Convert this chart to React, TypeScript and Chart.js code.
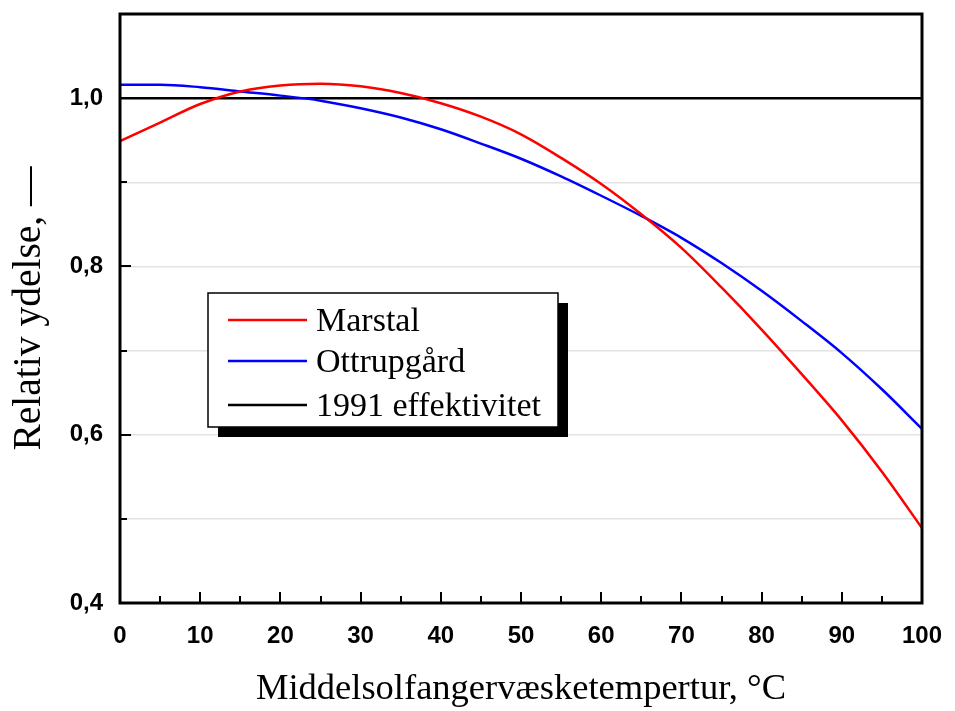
import React, { useEffect, useRef } from 'react';
import { Chart, registerables } from 'chart.js';

Chart.register(...registerables);

// ---- Data ----
const temps = [0, 5, 10, 15, 20, 25, 30, 35, 40, 45, 50, 55, 60, 65, 70, 75, 80, 85, 90, 95, 100];
const marstal = [0.949, 0.971, 0.993, 1.008, 1.015, 1.017, 1.014, 1.006, 0.994, 0.978, 0.957, 0.929, 0.898, 0.862, 0.822, 0.775, 0.725, 0.672, 0.617, 0.556, 0.489];
const ottrupgaard = [1.016, 1.016, 1.013, 1.008, 1.003, 0.997, 0.988, 0.977, 0.963, 0.946, 0.928, 0.907, 0.884, 0.86, 0.834, 0.804, 0.771, 0.735, 0.697, 0.654, 0.607];
const refTemps = [0, 100];
const ref1991 = [1.0, 1.0];

const seriesLabels = ['Marstal', 'Ottrupgård', '1991 effektivitet'];
const seriesColors = ['#ff0000', '#0000ff', '#000000'];
const xTitle = 'Middelsolfangervæsketempertur, °C';
const yTitle = 'Relativ ydelse, —';
const yLabelledTicks = [0.4, 0.6, 0.8, 1.0];
const xRange = [0, 100];
const yRange = [0.4, 1.1];

const toPoints = (xs: number[], ys: number[]) => xs.map((x, i) => ({ x, y: ys[i] }));

const zeroPad = (s: any) => {
  s.paddingTop = 0;
  s.paddingBottom = 0;
  s.paddingLeft = 0;
  s.paddingRight = 0;
};

const framePlugin = {
  id: 'frameTicks',
  afterDatasetsDraw(chart: any) {
    const { ctx, chartArea: a, scales } = chart;
    const x = scales.x;
    const y = scales.y;
    ctx.save();
    ctx.strokeStyle = '#000';
    ctx.lineWidth = 2;
    ctx.lineCap = 'butt';
    for (let v = x.min + 5; v < x.max - 1e-9; v += 5) {
      const px = Math.round(x.getPixelForValue(v));
      const major = Math.round(v) % 10 === 0;
      ctx.beginPath();
      ctx.moveTo(px, a.bottom);
      ctx.lineTo(px, a.bottom - (major ? 11 : 7));
      ctx.stroke();
    }
    for (let k = 1; k < Math.round((y.max - y.min) * 10); k++) {
      const v = y.min + k * 0.1;
      const py = Math.round(y.getPixelForValue(v));
      const major = Math.round(v * 10) % 2 === 0;
      ctx.beginPath();
      ctx.moveTo(a.left, py);
      ctx.lineTo(a.left + (major ? 11 : 7), py);
      ctx.stroke();
    }
    ctx.lineWidth = 3;
    ctx.strokeRect(a.left, a.top, a.right - a.left, a.bottom - a.top);
    ctx.restore();
  },
};

const legendPlugin = {
  id: 'boxLegend',
  afterDraw(chart: any) {
    const { ctx } = chart;
    const bx = 208, by = 293, bw = 350, bh = 134, sh = 10;
    ctx.save();
    ctx.fillStyle = '#000';
    ctx.fillRect(bx + sh, by + sh, bw, bh);
    ctx.fillStyle = '#fff';
    ctx.fillRect(bx, by, bw, bh);
    ctx.strokeStyle = '#000';
    ctx.lineWidth = 1.5;
    ctx.strokeRect(bx, by, bw, bh);
    ctx.font = '34px "Liberation Serif", "Times New Roman", serif';
    ctx.textBaseline = 'alphabetic';
    ctx.textAlign = 'left';
    const rows = [320, 361, 405];
    chart.data.datasets.forEach((ds: any, i: number) => {
      const ry = rows[i];
      ctx.strokeStyle = ds.borderColor;
      ctx.lineWidth = 2.5;
      ctx.beginPath();
      ctx.moveTo(bx + 20, ry);
      ctx.lineTo(bx + 99, ry);
      ctx.stroke();
      ctx.fillStyle = '#000';
      ctx.fillText(ds.label, bx + 108, ry + 11);
    });
    ctx.restore();
  },
};

export default function App() {
  const canvasRef = useRef<HTMLCanvasElement | null>(null);

  useEffect(() => {
    if (!canvasRef.current) return;
    const chart = new Chart(canvasRef.current, {
      type: 'line',
      data: {
        datasets: [
          {
            label: seriesLabels[0],
            data: toPoints(temps, marstal),
            borderColor: seriesColors[0],
            borderWidth: 2.5,
            pointRadius: 0,
            cubicInterpolationMode: 'monotone',
            fill: false,
          },
          {
            label: seriesLabels[1],
            data: toPoints(temps, ottrupgaard),
            borderColor: seriesColors[1],
            borderWidth: 2.5,
            pointRadius: 0,
            cubicInterpolationMode: 'monotone',
            fill: false,
          },
          {
            label: seriesLabels[2],
            data: toPoints(refTemps, ref1991),
            borderColor: seriesColors[2],
            borderWidth: 2.5,
            pointRadius: 0,
            tension: 0,
            fill: false,
          },
        ],
      },
      options: {
        responsive: false,
        animation: false,
        devicePixelRatio: 1,
        layout: { padding: { top: 14, right: 33, left: 0, bottom: 0 } },
        plugins: {
          legend: { display: false },
          tooltip: { enabled: false },
        },
        scales: {
          x: {
            type: 'linear',
            min: xRange[0],
            max: xRange[1],
            afterFit: (s: any) => { s.height = 108; zeroPad(s); },
            ticks: {
              stepSize: 10,
              padding: 19,
              color: '#000',
              font: { family: '"Liberation Sans", Arial, sans-serif', size: 24, weight: 'bold' },
              maxRotation: 0,
              autoSkip: false,
            },
            grid: { display: false, drawTicks: false },
            border: { display: false },
            title: {
              display: true,
              text: xTitle,
              color: '#000',
              font: { family: '"Liberation Serif", "Times New Roman", serif', size: 36.5 },
              padding: { top: 0, bottom: 0 },
            },
          },
          y: {
            type: 'linear',
            min: yRange[0],
            max: yRange[1],
            afterFit: (s: any) => { s.width = 120; zeroPad(s); },
            ticks: {
              stepSize: 0.1,
              padding: 17,
              color: '#000',
              autoSkip: false,
              font: { family: '"Liberation Sans", Arial, sans-serif', size: 24, weight: 'bold' },
              callback: (v: any) => {
                const n = Number(v);
                const hit = yLabelledTicks.find((t) => Math.abs(t - n) < 1e-6);
                return hit === undefined ? '' : hit.toFixed(1).replace('.', ',');
              },
            },
            grid: {
              drawTicks: false,
              lineWidth: 1.5,
              color: (c: any) => {
                const v = c.tick ? c.tick.value : 0;
                if (Math.abs(v - yRange[0]) < 1e-6 || Math.abs(v - yRange[1]) < 1e-6) return 'rgba(0,0,0,0)';
                return '#e2e2e2';
              },
            },
            border: { display: false },
            title: {
              display: true,
              text: yTitle,
              color: '#000',
              font: { family: '"Liberation Serif", "Times New Roman", serif', size: 39.5 },
              padding: { top: 6, bottom: 0 },
            },
          },
        },
      },
      plugins: [framePlugin, legendPlugin],
    } as any);
    return () => chart.destroy();
  }, []);

  return (
    <div style={{ position: 'fixed', left: 0, top: 0, width: 955, height: 711, background: '#fff' }}>
      <canvas ref={canvasRef} width={955} height={711} style={{ display: 'block' }} />
    </div>
  );
}
